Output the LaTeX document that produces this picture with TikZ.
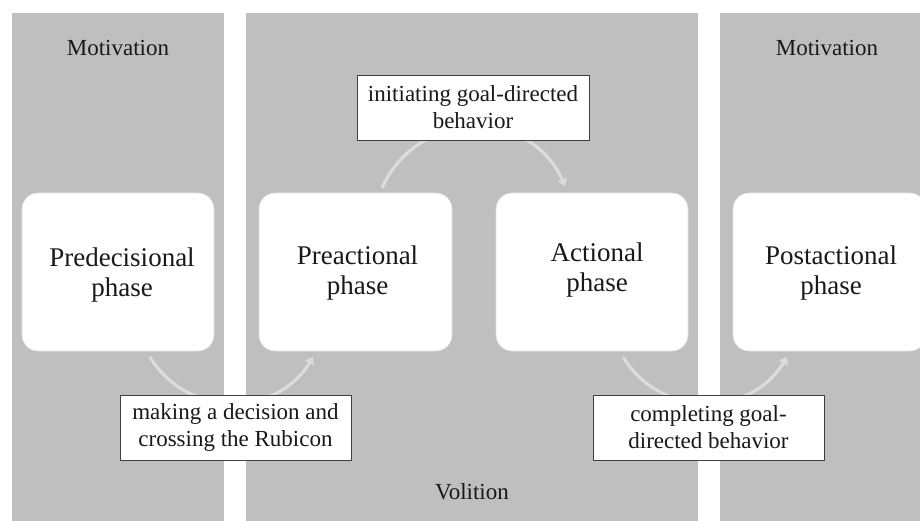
\documentclass[tikz,border=0pt]{standalone}
\usepackage{fontspec}
\setmainfont{Liberation Serif}
\usetikzlibrary{arrows.meta}
\definecolor{panelgray}{HTML}{BFBFBF}
\definecolor{arcgray}{HTML}{DCDCDC}
\definecolor{boxline}{HTML}{404040}
\begin{document}
\begin{tikzpicture}[x=1pt,y=-1pt,
  panel/.style={fill=panelgray,draw=none},
  phasebox/.style={draw=gray!25,line width=0.6pt,fill=white,rounded corners=16pt},
  phasetext/.style={font=\fontsize{27}{30}\selectfont,align=center,text=black!90},
  labelbox/.style={draw=boxline,line width=0.9pt,fill=white,inner sep=0pt,
     font=\fontsize{23}{27}\selectfont,align=center,text=black!90},
  headtext/.style={font=\fontsize{23}{27}\selectfont,text=black!90},
  arcline/.style={draw=arcgray,line width=3.2pt,
     -{Triangle[width=10pt,length=7pt]}}]
\useasboundingbox (0,0) rectangle (920,521);
\begin{scope}
\clip (0,0) rectangle (920,521);
% panels
\path[panel] (12,13) rectangle (224,521);
\path[panel] (246,13) rectangle (698,521);
\path[panel] (720,13) rectangle (925,521);
% headings
\node[headtext] (mot1) at (118,48) {Motivation};
\node[headtext] (mot2) at (827,48) {Motivation};
\node[headtext] (vol) at (472,492) {Volition};
% phase boxes
\path[phasebox] (22,193) rectangle (214,351);
\node[phasetext] (pre) at (122,275) {Predecisional\\phase};
\path[phasebox] (259,193) rectangle (452,351);
\node[phasetext] (prea) at (357.5,273) {Preactional\\phase};
\path[phasebox] (496,193) rectangle (688,351);
\node[phasetext] (act) at (597,270) {Actional\\phase};
\path[phasebox] (733,193) rectangle (926,351);
\node[phasetext] (post) at (831,273) {Postactional\\phase};
% arc endpoints
\coordinate (a1s) at (150,357);
\coordinate (a1e) at (313,357);
\coordinate (a2s) at (382,188);
\coordinate (a2e) at (565,186);
\coordinate (a3s) at (623,357);
\coordinate (a3e) at (787,357);
% arcs
\draw[arcline] (a1s) .. controls (187,418) and (276,418) .. (a1e);
\draw[arcline] (a2s) .. controls (417,109) and (530,107) .. (a2e);
\draw[arcline] (a3s) .. controls (660,418) and (750,418) .. (a3e);
% labels
\node[labelbox,minimum width=232pt,minimum height=65pt] (l1) at (473,107.5)
  {initiating goal-directed\\behavior};
\node[labelbox,minimum width=231pt,minimum height=65pt] (l2) at (235.5,427.5)
  {making a decision and\\crossing the Rubicon};
\node[labelbox,minimum width=231pt,minimum height=65pt] (l3) at (708.5,427.5)
  {completing goal-\\directed behavior};
\end{scope}
\end{tikzpicture}
\end{document}
